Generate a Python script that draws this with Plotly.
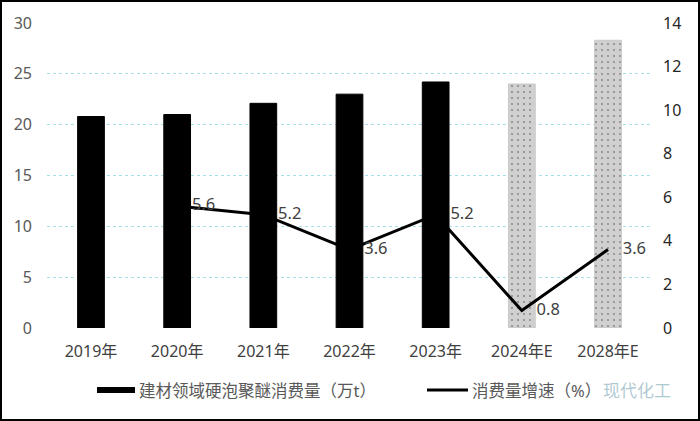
import plotly.graph_objects as go

categories = ["2019年", "2020年", "2021年", "2022年", "2023年", "2024年E", "2028年E"]
consumption = [20.8, 21.0, 22.1, 23.0, 24.2, 24.0, 28.3]
growth = [None, 5.6, 5.2, 3.6, 5.2, 0.8, 3.6]
is_forecast = [False, False, False, False, False, True, True]
growth_labels = ["" if g is None else f"{g}" for g in growth]
bar_name = "建材领域硬泡聚醚消费量（万t）"
line_name = "消费量增速（%）"
watermark = "现代化工"

bar_colors = ["#d0d0d0" if f else "#000000" for f in is_forecast]
bar_patterns = ["." if f else "" for f in is_forecast]
bar_lines = ["#c8c8c8" if f else "#000000" for f in is_forecast]

fig = go.Figure()
fig.add_trace(go.Bar(
    x=categories, y=consumption, name=bar_name,
    marker=dict(color=bar_colors, line=dict(color=bar_lines, width=1),
                pattern=dict(shape=bar_patterns, fgcolor="#666666", bgcolor="#d0d0d0",
                             size=6, solidity=0.1)),
    yaxis="y", showlegend=False,
))
fig.add_trace(go.Scatter(
    x=categories, y=growth, name=line_name, mode="lines+markers+text",
    line=dict(color="#000000", width=3),
    marker=dict(size=22, color="rgba(0,0,0,0)"),
    text=growth_labels, textposition="middle right",
    textfont=dict(size=16.5, color="#404040"),
    yaxis="y2", connectgaps=False, showlegend=False,
))

ml, mr, mt, mb = 47, 48, 23, 93
W, H = 700, 421
pw, ph = W - ml - mr, H - mt - mb

def px(xp):
    return (xp - ml) / pw

def py(yp):
    return (H - mb - yp) / ph

shapes = [
    dict(type="rect", xref="paper", yref="paper",
         x0=px(1), x1=px(699), y0=py(420), y1=py(1),
         line=dict(color="#000000", width=2)),
    dict(type="rect", xref="paper", yref="paper",
         x0=px(97), x1=px(135), y0=py(393), y1=py(387),
         line=dict(width=0), fillcolor="#000000"),
    dict(type="line", xref="paper", yref="paper",
         x0=px(427), x1=px(468), y0=py(390), y1=py(390),
         line=dict(color="#000000", width=3)),
]
annotations = [
    dict(text=bar_name, xref="paper", yref="paper", x=px(137), y=py(390),
         xanchor="left", yanchor="middle", showarrow=False,
         font=dict(size=16.5, color="#595959")),
    dict(text=line_name, xref="paper", yref="paper", x=px(470), y=py(390),
         xanchor="left", yanchor="middle", showarrow=False,
         font=dict(size=16.5, color="#595959")),
    dict(text=watermark, xref="paper", yref="paper", x=px(601), y=py(390),
         xanchor="left", yanchor="middle", showarrow=False,
         font=dict(size=17, color="rgba(120,165,180,0.6)")),
]

fig.update_layout(
    width=W, height=H,
    margin=dict(l=ml, r=mr, t=mt, b=mb, autoexpand=False),
    paper_bgcolor="white", plot_bgcolor="white",
    font=dict(family="Noto Sans, Noto Sans CJK SC, sans-serif", size=16, color="#595959"),
    bargap=0.69,
    showlegend=False,
    xaxis=dict(showgrid=False, showline=False, ticks="", ticklabelstandoff=12,
               tickfont=dict(size=16, color="#404040")),
    yaxis=dict(range=[0, 30], dtick=5, showgrid=True, gridcolor="#a6e0e8", griddash="dot",
               gridwidth=1, zeroline=False, showline=False, ticks="", ticklabelstandoff=14,
               tickfont=dict(size=16, color="#595959")),
    yaxis2=dict(range=[0, 14], dtick=2, overlaying="y", side="right", showgrid=False,
                zeroline=False, showline=False, ticks="", ticklabelstandoff=10,
                tickfont=dict(size=16, color="#262626")),
    shapes=shapes,
    annotations=annotations,
)

fig.write_html("out.html")
